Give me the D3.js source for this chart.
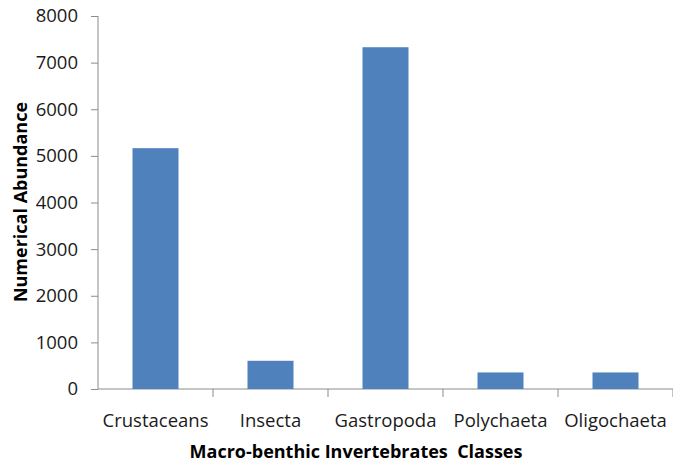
<!DOCTYPE html>
<html>
<head>
<meta charset="utf-8">
<script src="https://cdn.jsdelivr.net/npm/d3@7"></script>
<style>
    body { margin: 0; background: #fff; }
    svg { display: block; }
    .axis path, .axis line { stroke: #8c8c8c; }
    .axis text { fill: #1a1a1a; font-size: 18.5px; font-family: "Open Sans", sans-serif; }
    .title { font-weight: bold; fill: #000; font-size: 18px; font-family: "Open Sans", sans-serif; }
</style>
</head>
<body>
<div id="chart"></div>
<script>
const classes = ["Crustaceans", "Insecta", "Gastropoda", "Polychaeta", "Oligochaeta"];
const abundance = [5165, 605, 7330, 355, 355];
const yTicks = [0, 1000, 2000, 3000, 4000, 5000, 6000, 7000, 8000];

const W = 673, H = 466;
const margin = {top: 16, right: 0, bottom: 77, left: 98};
const width = W - margin.left - margin.right;
const height = H - margin.top - margin.bottom;

const svg = d3.select("#chart").append("svg")
    .attr("width", W)
    .attr("height", H);

const g = svg.append("g")
    .attr("transform", `translate(${margin.left},${margin.top})`);

const x = d3.scaleBand()
    .domain(classes)
    .range([0, width])
    .paddingInner(0.6)
    .paddingOuter(0.3);

// separators between categories
const step = width / classes.length;

const y = d3.scaleLinear()
    .domain([0, 8000])
    .range([height, 0]);

// y axis
const yAxis = g.append("g")
    .attr("class", "axis")
    .call(d3.axisLeft(y).tickValues(yTicks).tickFormat(d3.format("d")).tickSize(7).tickPadding(13).tickSizeOuter(0));
yAxis.attr("font-family", null).attr("font-size", null);
yAxis.select(".domain").attr("d", `M0,${height}V0`);

// x axis
const xAxis = g.append("g")
    .attr("class", "axis")
    .attr("transform", `translate(0,${height})`)
    .call(d3.axisBottom(x).tickSize(0).tickPadding(25));
xAxis.attr("font-family", null).attr("font-size", null);
xAxis.select(".domain").attr("d", `M0,0H${width}`);
xAxis.selectAll(".sep")
    .data(d3.range(1, classes.length + 1))
    .enter().append("line")
    .attr("class", "sep")
    .attr("x1", d => d * step).attr("x2", d => d * step)
    .attr("y1", 0).attr("y2", 8)
    .attr("stroke", "#8c8c8c");

// bars
g.selectAll(".bar")
    .data(classes)
    .enter().append("rect")
    .attr("class", "bar")
    .attr("x", d => x(d))
    .attr("width", x.bandwidth())
    .attr("y", (d, i) => y(abundance[i]))
    .attr("height", (d, i) => height - y(abundance[i]))
    .attr("fill", "#4f81bd");

// titles
svg.append("text")
    .attr("class", "title")
    .attr("x", 356)
    .attr("y", 458)
    .attr("text-anchor", "middle")
    .style("white-space", "pre")
    .text("Macro-benthic Invertebrates  Classes");

svg.append("text")
    .attr("class", "title")
    .attr("transform", "translate(27,202) rotate(-90)")
    .attr("text-anchor", "middle")
    .text("Numerical Abundance");
</script>
</body>
</html>
